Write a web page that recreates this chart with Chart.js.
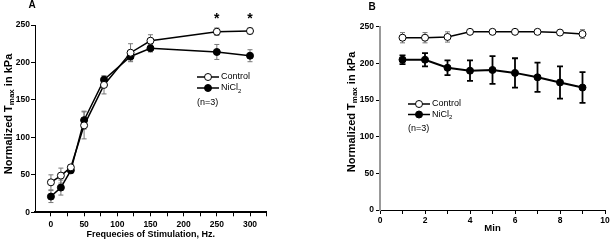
<!DOCTYPE html>
<html>
<head>
<meta charset="utf-8">
<script src="https://cdn.jsdelivr.net/npm/chart.js@4.4.1/dist/chart.umd.min.js"></script>
<style>
  html, body { margin: 0; padding: 0; background: #fff; }
  #wrap { position: relative; width: 612px; height: 241px; }
  canvas { position: absolute; top: 0; }
</style>
</head>
<body>
<div id="wrap">
  <canvas id="chartA" width="306" height="241" style="left:0"></canvas>
  <canvas id="chartB" width="306" height="241" style="left:306px"></canvas>
</div>
<script>
// panel A: tension vs stimulation frequency
const freqHz = [0, 15, 30, 50, 80, 120, 150, 250, 300];
const ctrlA = [40, 49, 60, 116, 170, 213, 229, 241, 242];
const ctrlAErr = [10, 10, 3, 18, 12, 12, 8, 5, 4];
const niA = [21, 33, 56, 123, 177, 208, 219, 214, 209];
const niAErr = [8, 10, 4, 12, 5, 6, 5, 10, 8];
const starsA = [250, 300];

// panel B: tension over time
const minutes = [1, 2, 3, 4, 5, 6, 7, 8, 9];
const ctrlB = [235, 235, 236, 243, 243, 243, 243, 242, 240];
const ctrlBErr = [7, 7, 7, 2, 2, 2, 2, 2, 6];
const niB = [205, 205, 194, 190, 191, 187, 181, 174, 167];
const niBErr = [6, 9, 10, 14, 19, 20, 20, 22, 21];

const FONT = '"Liberation Sans", Arial, Helvetica, sans-serif';
Chart.defaults.font.family = FONT;
Chart.defaults.color = '#000';

function pts(xs, ys) {
  return xs.map((x, i) => ({ x: x, y: ys[i] }));
}

function errorBars(errs, styles) {
  return {
    id: 'errBars',
    beforeDatasetsDraw(chart) {
      const ctx = chart.ctx, sx = chart.scales.x, sy = chart.scales.y;
      chart.data.datasets.forEach((ds, i) => {
        const st = styles[i];
        ctx.save();
        ctx.strokeStyle = st.color;
        ctx.lineWidth = st.width;
        ds.data.forEach((p, j) => {
          const px = sx.getPixelForValue(p.x);
          const top = sy.getPixelForValue(p.y + errs[i][j]);
          const bot = sy.getPixelForValue(p.y - errs[i][j]);
          ctx.beginPath();
          ctx.moveTo(px, top); ctx.lineTo(px, bot);
          ctx.moveTo(px - st.cap, top); ctx.lineTo(px + st.cap, top);
          ctx.moveTo(px - st.cap, bot); ctx.lineTo(px + st.cap, bot);
          ctx.stroke();
        });
        ctx.restore();
      });
    }
  };
}

function drawYTitle(ctx, cx, cy) {
  const big = 'bold 11px ' + FONT, small = 'bold 8px ' + FONT;
  const parts = [['Normalized T', big, 0], ['max', small, 3], [' in kPa', big, 0]];
  ctx.save();
  ctx.translate(cx, cy);
  ctx.rotate(-Math.PI / 2);
  ctx.textBaseline = 'middle';
  ctx.textAlign = 'left';
  ctx.fillStyle = '#000';
  let w = 0;
  parts.forEach(p => { ctx.font = p[1]; w += ctx.measureText(p[0]).width; });
  let x = -w / 2;
  parts.forEach(p => {
    ctx.font = p[1];
    ctx.fillText(p[0], x, p[2]);
    x += ctx.measureText(p[0]).width;
  });
  ctx.restore();
}

function drawLegend(ctx, x0, y0, gap, nY) {
  ctx.save();
  ctx.strokeStyle = '#000';
  ctx.fillStyle = '#000';
  ctx.textBaseline = 'middle';
  ctx.textAlign = 'left';
  [[y0, '#fff'], [y0 + gap, '#000']].forEach(r => {
    ctx.lineWidth = 1.5;
    ctx.beginPath(); ctx.moveTo(x0, r[0]); ctx.lineTo(x0 + 22, r[0]); ctx.stroke();
    ctx.lineWidth = 1;
    ctx.beginPath(); ctx.arc(x0 + 11, r[0], 3.5, 0, Math.PI * 2);
    ctx.fillStyle = r[1]; ctx.fill(); ctx.stroke();
  });
  ctx.fillStyle = '#000';
  ctx.font = '9px ' + FONT;
  ctx.fillText('Control', x0 + 24, y0);
  ctx.fillText('NiCl', x0 + 24, y0 + gap);
  const w = ctx.measureText('NiCl').width;
  ctx.font = '6px ' + FONT;
  ctx.fillText('2', x0 + 24 + w, y0 + gap + 3);
  ctx.font = '9px ' + FONT;
  ctx.fillText('(n=3)', x0, nY);
  ctx.restore();
}

function annotations(opt) {
  return {
    id: 'annot',
    afterDraw(chart) {
      const ctx = chart.ctx, area = chart.chartArea;
      ctx.save();
      ctx.fillStyle = '#000';
      ctx.textAlign = 'center';
      ctx.textBaseline = 'middle';
      ctx.font = 'bold 10px ' + FONT;
      ctx.fillText(opt.panel, opt.panelX, opt.panelY);
      ctx.font = 'bold ' + opt.xFont + 'px ' + FONT;
      ctx.fillText(opt.xTitle, (area.left + area.right) / 2, opt.xTitleY);
      if (opt.stars) {
        ctx.font = 'bold 14px ' + FONT;
        opt.stars.forEach(v => {
          ctx.fillText('*', chart.scales.x.getPixelForValue(v), opt.starY);
        });
      }
      ctx.restore();
      drawYTitle(ctx, opt.yTitleX, opt.yTitleY);
      drawLegend(ctx, opt.legX, opt.legY, opt.legGap, opt.nY);
    }
  };
}

function lineSet(label, data, fill, width) {
  return {
    label: label,
    data: data,
    borderColor: '#000',
    borderWidth: width,
    pointRadius: 3.5,
    pointBorderWidth: 1,
    pointBorderColor: '#000',
    pointBackgroundColor: fill,
    showLine: true,
    clip: false
  };
}

function axisOpts(min, max, step, labelEvery, size, tickPad, border) {
  return {
    type: 'linear',
    min: min,
    max: max,
    afterFit: s => { if (s.isHorizontal()) s.height = size; else s.width = size; },
    ticks: {
      stepSize: step,
      includeBounds: false,
      autoSkip: false,
      maxRotation: 0,
      padding: tickPad,
      font: { size: 8.5, weight: 'bold' },
      callback: v => (Math.abs(v % labelEvery) < 1e-9 ? v : '')
    },
    grid: { drawOnChartArea: false, drawTicks: true, tickLength: 4, color: '#000', lineWidth: 1 },
    border: border
  };
}

new Chart(document.getElementById('chartA').getContext('2d'), {
  type: 'scatter',
  data: {
    datasets: [
      lineSet('Control', pts(freqHz, ctrlA), '#fff', 1.5),
      lineSet('NiCl2', pts(freqHz, niA), '#000', 1.5)
    ]
  },
  options: {
    responsive: false,
    animation: false,
    layout: { padding: { left: 0, right: 39.4, top: 25, bottom: 0 } },
    scales: {
      x: axisOpts(-24, 325, 25, 50, 28.7, 3, { color: '#000', width: 2 }),
      y: axisOpts(0, 250, 50, 50, 35, 1, { color: '#000', width: 1 })
    },
    plugins: { legend: { display: false }, tooltip: { enabled: false } }
  },
  plugins: [
    errorBars([ctrlAErr, niAErr], [
      { color: '#777', width: 1, cap: 2.5 },
      { color: '#777', width: 1, cap: 2.5 }
    ]),
    annotations({
      panel: 'A', panelX: 32, panelY: 5,
      xTitle: 'Frequecies of Stimulation, Hz.', xTitleY: 235, xFont: 9,
      stars: starsA, starY: 19,
      yTitleX: 9, yTitleY: 114,
      legX: 197, legY: 77, legGap: 11, nY: 103
    })
  ]
});

new Chart(document.getElementById('chartB').getContext('2d'), {
  type: 'scatter',
  data: {
    datasets: [
      lineSet('Control', pts(minutes, ctrlB), '#fff', 1.5),
      lineSet('NiCl2', pts(minutes, niB), '#000', 2)
    ]
  },
  options: {
    responsive: false,
    animation: false,
    layout: { padding: { left: 0, right: 7, top: 26.7, bottom: 0 } },
    scales: {
      x: axisOpts(0, 10, 1, 2, 31, 2, { color: '#000', width: 1 }),
      y: axisOpts(0, 250, 50, 50, 74, 2, { color: '#999', width: 2 })
    },
    plugins: { legend: { display: false }, tooltip: { enabled: false } }
  },
  plugins: [
    errorBars([ctrlBErr, niBErr], [
      { color: '#777', width: 1, cap: 2.5 },
      { color: '#000', width: 1.8, cap: 3 }
    ]),
    annotations({
      panel: 'B', panelX: 66, panelY: 7,
      xTitle: 'Min', xTitleY: 228, xFont: 9.5,
      yTitleX: 46, yTitleY: 112,
      legX: 102, legY: 104, legGap: 10.5, nY: 129
    })
  ]
});
</script>
</body>
</html>
